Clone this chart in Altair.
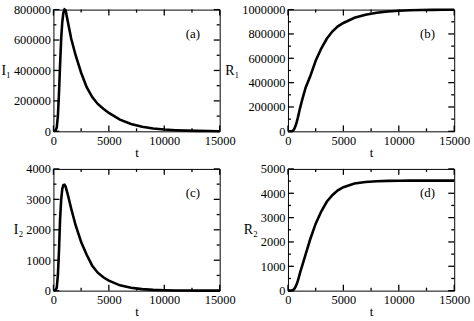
import altair as alt
import pandas as pd

# time grid shared by all four panels
t = [0, 200, 300, 400, 500, 600, 700, 800, 900, 1000, 1100, 1300, 1600, 2000, 2500,
     3000, 3500, 4000, 4500, 5000, 6000, 7000, 8000, 9000, 10000, 11000, 12000, 13000, 14000, 15000]

I1 = [0, 5000, 25000, 100000, 250000, 440000, 610000, 720000, 780000, 800000, 795000, 720000, 610000,
      500000, 385000, 290000, 225000, 180000, 148000, 121000, 77000, 48000, 30000, 19000, 12000,
      7500, 4500, 2800, 1700, 1000]

R1 = [0, 300, 1000, 3000, 10000, 25000, 50000, 80000, 115000, 154000, 195000, 265000, 360000,
      450000, 580000, 680000, 760000, 820000, 862000, 890000, 933000, 958000, 975000, 985000,
      990000, 994000, 996500, 998000, 999000, 999500]

I2 = [0, 20, 100, 500, 1300, 2350, 3000, 3350, 3470, 3480, 3420, 3150, 2700, 2150, 1600, 1180,
      820, 590, 440, 330, 175, 95, 50, 25, 12, 6, 3, 1.5, 0.7, 0.3]

R2 = [0, 2, 5, 15, 40, 90, 170, 280, 420, 580, 750, 1050, 1500, 2100, 2750, 3250, 3650, 3920,
      4120, 4250, 4400, 4465, 4495, 4508, 4515, 4518, 4520, 4520, 4520, 4520]

x_major = [0, 5000, 10000, 15000]
x_minor = [2500, 7500, 12500]

FONT = "Liberation Serif"
W, H = 168, 123
MAJ, MIN = 6, 3


def panel(values, ymax, ystep, ytitle, tag):
    df = pd.DataFrame({"t": t, "v": values})
    xs = alt.Scale(domain=[0, 15000], nice=False, zero=False)
    ys = alt.Scale(domain=[0, ymax], nice=False)
    y_major = list(range(0, ymax + 1, ystep))
    y_minor = list(range(ystep // 2, ymax, ystep))
    common = dict(labelFont=FONT, labelFontSize=12.5, labelColor="black",
                  titleFont=FONT, titleFontWeight="normal", titleColor="black", grid=False, domain=False)
    line = alt.Chart(df).mark_line(color="black", strokeWidth=2.6).encode(
        x=alt.X("t:Q", scale=xs, axis=alt.Axis(values=x_major, ticks=False, labelPadding=3,
                                               title="t", titleFontSize=13, titlePadding=0,
                                               format="d", labelFlush=False, **common)),
        y=alt.Y("v:Q", scale=ys, axis=alt.Axis(values=y_major, ticks=False, labelPadding=3,
                                               title=ytitle, titleFontSize=14, titleAngle=0,
                                               titleBaseline="middle", titleAlign="right",
                                               titlePadding=3, format="d", labelFlush=False,
                                               **common)),
    )
    layers = [line]
    for xv, yv, size in [(x_major, y_major, MAJ), (x_minor, y_minor, MIN)]:
        xdf = pd.DataFrame({"t": xv})
        ydf = pd.DataFrame({"v": yv})
        rx = alt.Chart(xdf).mark_rule(color="black", strokeWidth=1.3)
        ry = alt.Chart(ydf).mark_rule(color="black", strokeWidth=1.3)
        xenc = alt.X("t:Q", scale=xs, axis=None)
        yenc = alt.Y("v:Q", scale=ys, axis=None)
        layers.append(rx.encode(x=xenc, y=alt.value(H), y2=alt.value(H - size)))
        layers.append(rx.encode(x=xenc, y=alt.value(0), y2=alt.value(size)))
        layers.append(ry.encode(y=yenc, x=alt.value(0), x2=alt.value(size)))
        layers.append(ry.encode(y=yenc, x=alt.value(W), x2=alt.value(W - size)))
    label = alt.Chart(pd.DataFrame({"lab": [tag]})).mark_text(
        font=FONT, fontSize=13, color="black", align="center", baseline="middle"
    ).encode(x=alt.value(W - 27), y=alt.value(H * 0.2), text="lab:N")
    layers.append(label)
    return alt.layer(*layers).resolve_axis(x="independent", y="independent").properties(width=W, height=H)


a = panel(I1, 800000, 200000, "I₁", "(a)")
b = panel(R1, 1000000, 200000, "R₁", "(b)")
c = panel(I2, 4000, 1000, "I₂", "(c)")
d = panel(R2, 5000, 1000, "R₂", "(d)")

chart = alt.concat(a, b, c, d, columns=2, spacing={"row": 38, "column": 69}, bounds="flush").properties(
    padding={"left": 0, "top": 1, "right": 3, "bottom": 3}, background="white"
).configure_view(stroke="black", strokeWidth=1)

chart.save("out.html", embed_options={"renderer": "svg", "actions": False})
